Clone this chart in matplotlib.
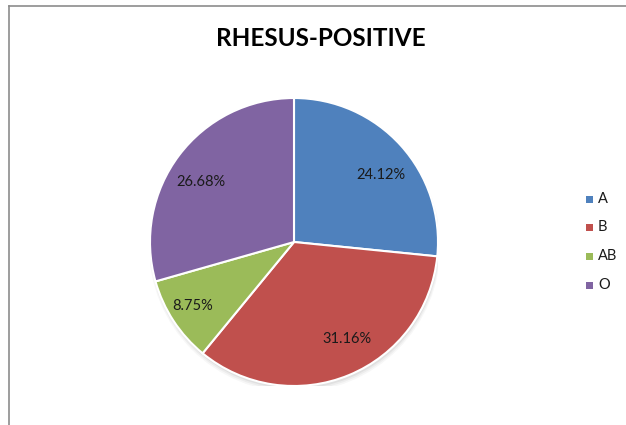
import numpy as np
import matplotlib
matplotlib.use("Agg")
import matplotlib.pyplot as plt
from matplotlib.lines import Line2D
from matplotlib.patches import Circle, Rectangle

categories = ["A", "B", "AB", "O"]
values = [24.12, 31.16, 8.75, 26.68]
colors = ["#4F81BD", "#C0504D", "#9BBB59", "#8064A2"]
title = "RHESUS-POSITIVE"

plt.rcParams["font.family"] = ["Lato", "DejaVu Sans"]

W, H = 626, 425
fig = plt.figure(figsize=(W / 100, H / 100), dpi=100)
fig.patch.set_facecolor("white")

# chart frame (left and top edges visible)
fig.add_artist(Line2D([8.5 / W, 8.5 / W], [0, 1 - 5.5 / H], color="#8c8c8c", lw=1.2))
fig.add_artist(Line2D([8.5 / W, 1], [1 - 5.5 / H, 1 - 5.5 / H], color="#8c8c8c", lw=1.2))

# pie axes: centre (294, 242) px, radius 144 px
cx, cy, r = 294, 242, 144
ax = fig.add_axes([(cx - r) / W, (H - cy - r) / H, 2 * r / W, 2 * r / H])
ax.set_xlim(-1, 1)
ax.set_ylim(-1, 1)
ax.axis("off")

# soft shadow under the pie
for i, a in enumerate([0.05, 0.04, 0.03]):
    ax.add_patch(Circle((0.005, -0.02 - 0.006 * i), 1.0 + 0.006 * i, color="black",
                        alpha=a, lw=0, zorder=0))

wedges, _ = ax.pie(values, colors=colors, startangle=90, counterclock=False,
                   radius=1.0, center=(0, 0), frame=False,
                   wedgeprops=dict(edgecolor="white", linewidth=1.5))
ax.set_xlim(-1, 1)
ax.set_ylim(-1, 1)
ax.set_aspect("auto")

# value labels placed inside each wedge
offsets = [(-4.5, 0.76), (6, 0.77), (-1, 0.83), (4, 0.77)]
for w, v, (da, rr) in zip(wedges, values, offsets):
    mid = np.deg2rad((w.theta1 + w.theta2) / 2 + da)
    ax.text(rr * np.cos(mid), rr * np.sin(mid), f"{v:.2f}%", ha="center", va="center",
            fontsize=10.5, color="#1a1a1a")

fig.text(321 / W, 1 - 38 / H, title, ha="center", va="center", fontsize=17.5,
         fontweight="bold", color="black")

# legend
ys = [199, 227, 256, 285]
for cat, col, y in zip(categories, colors, ys):
    fig.add_artist(Rectangle(((586) / W, 1 - (y + 3.5) / H), 7 / W, 7 / H, facecolor=col,
                             edgecolor="none", transform=fig.transFigure))
    fig.text(598 / W, 1 - y / H, cat, ha="left", va="center", fontsize=10.5, color="#1a1a1a")

fig.savefig("out.png", dpi=100)
